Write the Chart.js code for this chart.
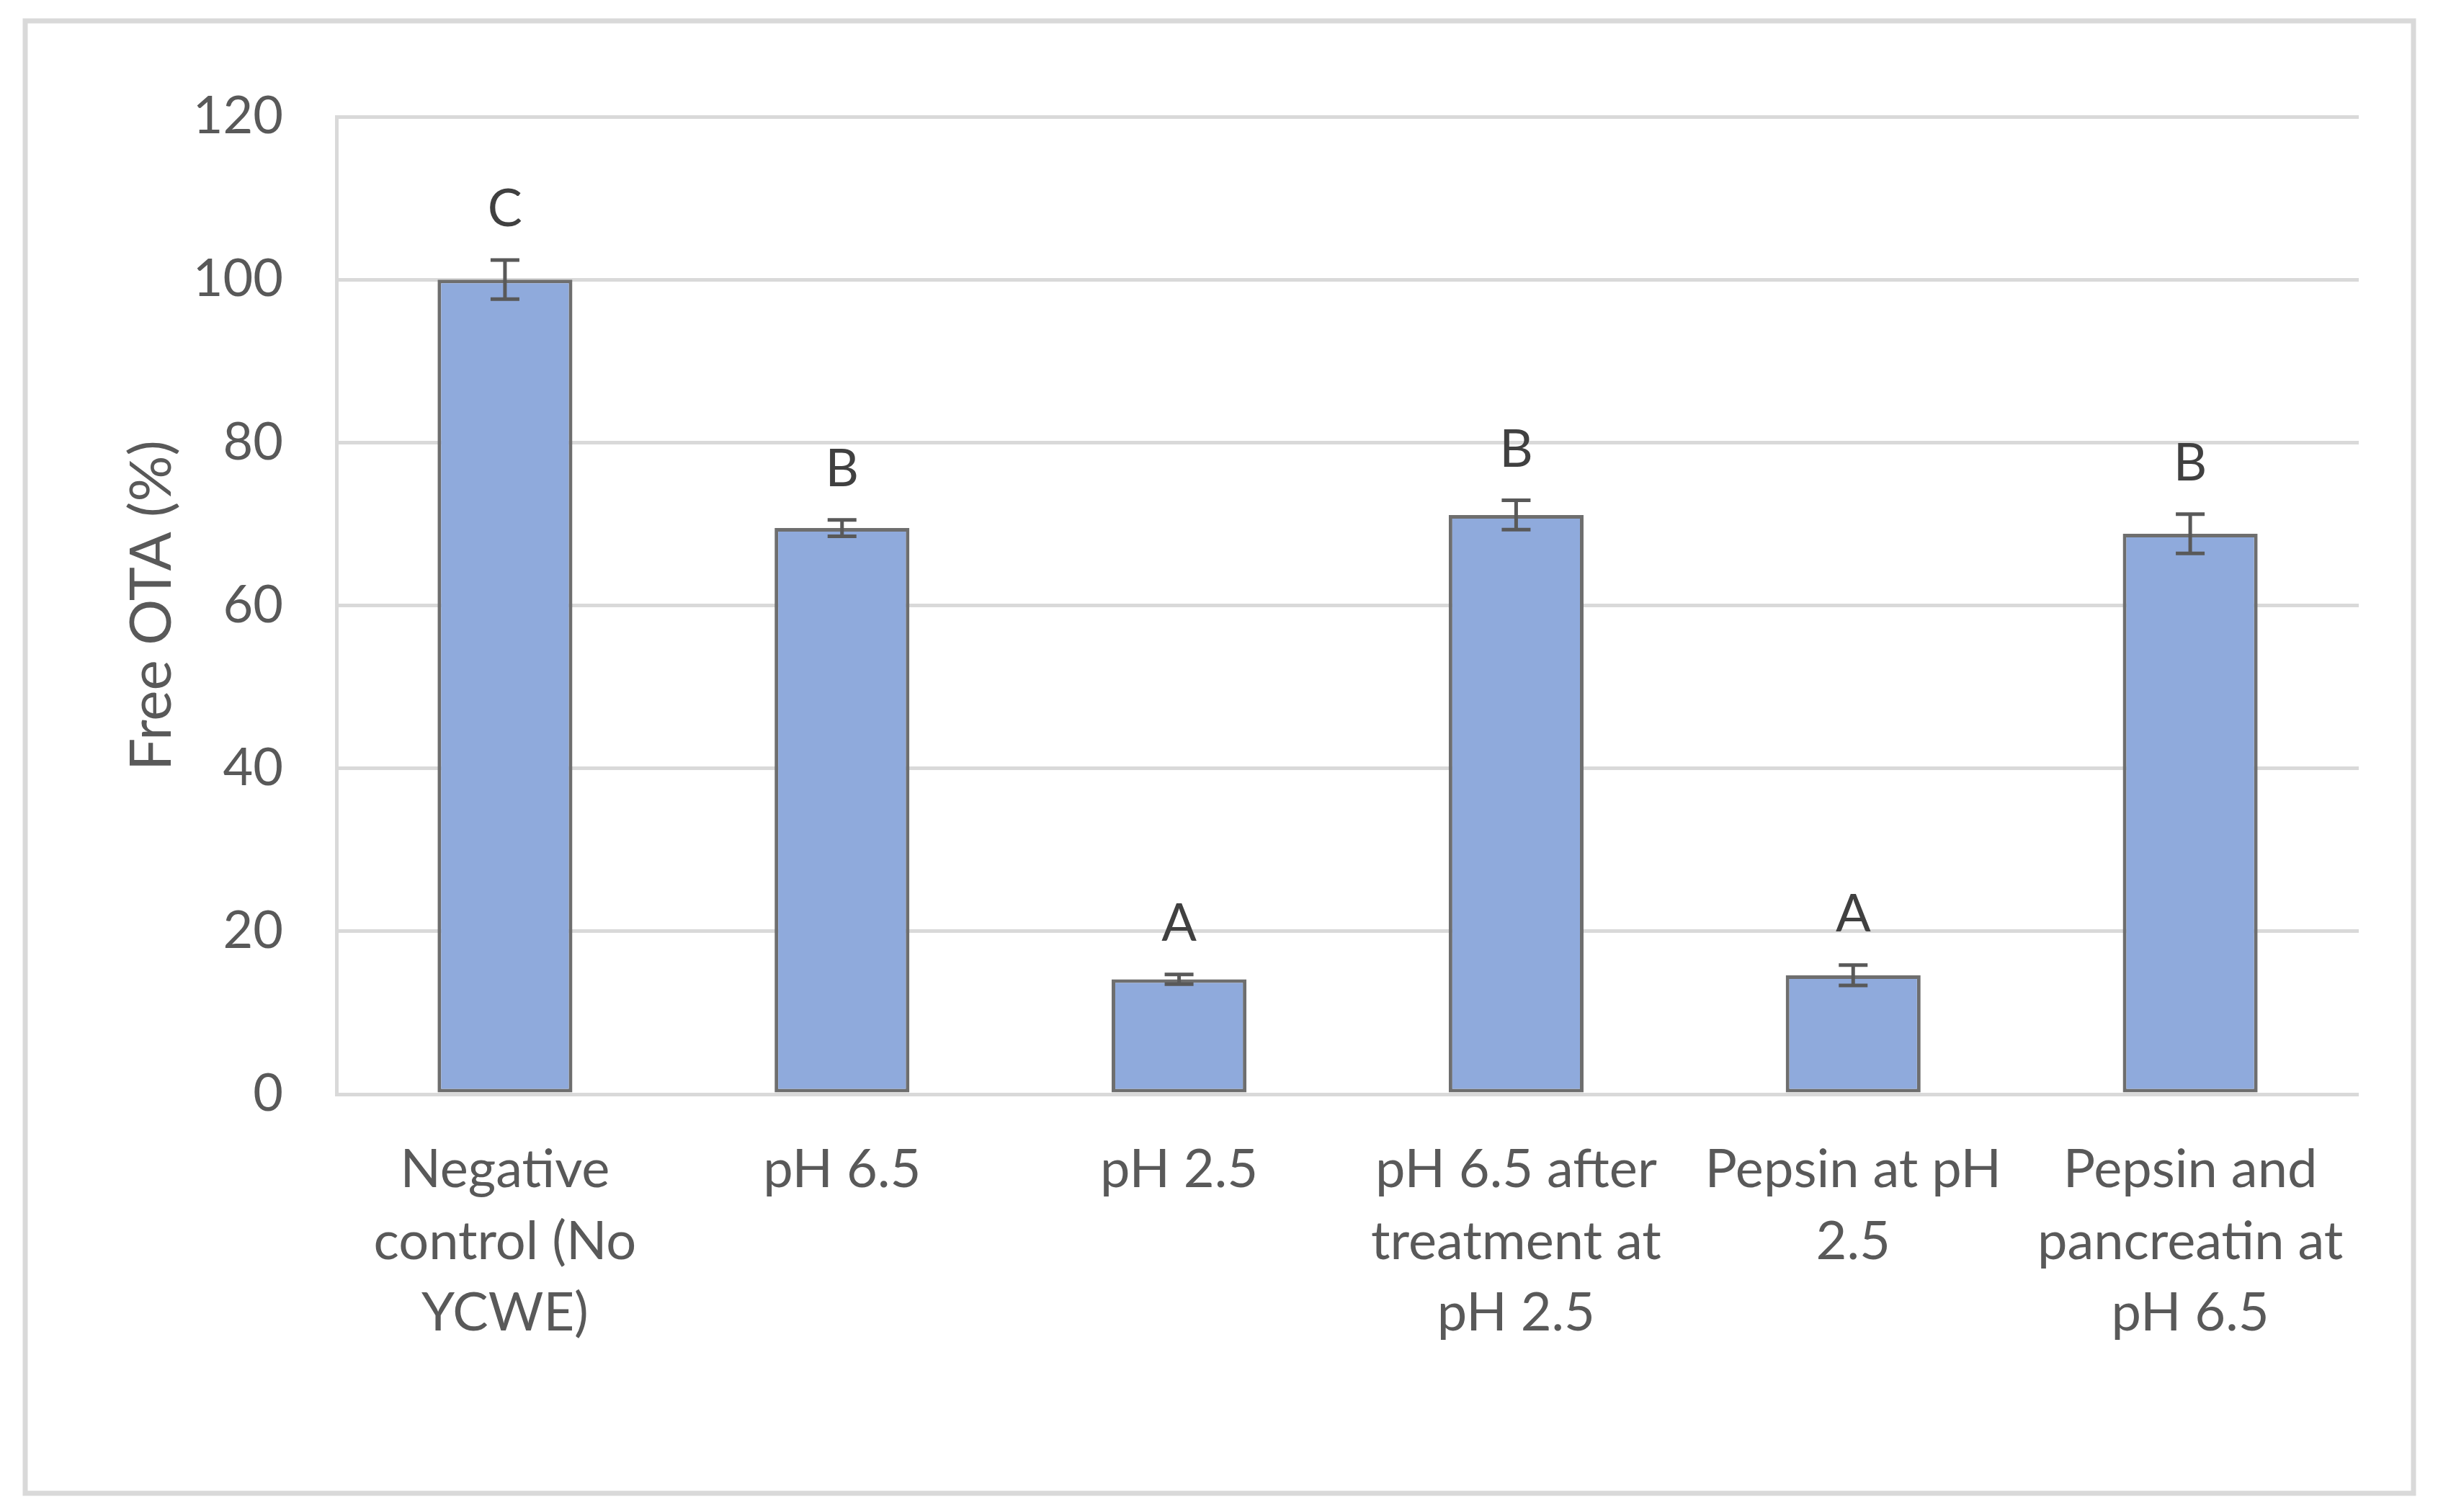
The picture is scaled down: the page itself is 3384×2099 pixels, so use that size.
<!DOCTYPE html>
<html>
<head>
<meta charset="utf-8">
<script src="https://cdn.jsdelivr.net/npm/chart.js@4.4.1/dist/chart.umd.min.js"></script>
<style>
    html, body { margin: 0; padding: 0; background: #ffffff; }
    #wrap { position: relative; width: 3384px; height: 2099px; }
</style>
</head>
<body>
<div id="wrap"><canvas id="otaChart"></canvas></div>
<script>
    var categories = [
        ['Negative', 'control (No', 'YCWE)'],
        'pH 6.5',
        'pH 2.5',
        ['pH 6.5 after', 'treatment at', 'pH 2.5'],
        ['Pepsin at pH', '2.5'],
        ['Pepsin and', 'pancreatin at', 'pH 6.5']
    ];
    var freeOta = [100, 69.5, 14.1, 71.1, 14.6, 68.8];
    var freeOtaErr = [2.4, 1.0, 0.6, 1.8, 1.25, 2.4];
    var groupLetters = ['C', 'B', 'A', 'B', 'A', 'B'];
    var yMin = 0, yMax = 120, yStep = 20;

    var textColor = '#595959';
    var fontName = 'Lato';

    // error bars + letters over the bars
    var errorBars = {
        id: 'errorBars',
        afterDatasetsDraw: function(chart) {
            var ctx = chart.ctx;
            var meta = chart.getDatasetMeta(0);
            var yScale = chart.scales.y;
            ctx.save();
            ctx.strokeStyle = '#595959';
            ctx.lineWidth = 5;
            for (var i = 0; i < meta.data.length; i++) {
                var x = meta.data[i].x;
                var hi = yScale.getPixelForValue(freeOta[i] + freeOtaErr[i]);
                var lo = yScale.getPixelForValue(freeOta[i] - freeOtaErr[i]);
                ctx.beginPath();
                ctx.moveTo(x, hi); ctx.lineTo(x, lo);
                ctx.moveTo(x - 20, hi); ctx.lineTo(x + 20, hi);
                ctx.moveTo(x - 20, lo); ctx.lineTo(x + 20, lo);
                ctx.stroke();

                ctx.fillStyle = '#404040';
                ctx.font = '72px ' + fontName;
                ctx.textAlign = 'center';
                ctx.textBaseline = 'middle';
                ctx.fillText(groupLetters[i], x, hi - 70);
            }
            ctx.restore();
        }
    };

    var frame = {
        id: 'frame',
        beforeDraw: function(chart) {
            var ctx = chart.ctx;
            ctx.save();
            ctx.fillStyle = '#ffffff';
            ctx.fillRect(0, 0, chart.width, chart.height);
            ctx.strokeStyle = '#d9d9d9';
            ctx.lineWidth = 7;
            ctx.strokeRect(35, 29, 3315, 2044);
            ctx.restore();
        }
    };

    const ctx = document.getElementById('otaChart');
    var ota_Chart = new Chart(ctx, {
        type: 'bar',
        data: {
            labels: categories,
            datasets: [{
                label: 'Free OTA (%)',
                data: freeOta,
                backgroundColor: '#8faadc',
                borderColor: '#6e6e6e',
                borderWidth: 5,
                borderSkipped: false,
                barPercentage: 0.4,
                categoryPercentage: 1
            }]
        },
        options: {
            responsive: true,
            maintainAspectRatio: false,
            animation: false,
            devicePixelRatio: 1,
            layout: {
                padding: { top: 162, right: 110, bottom: 0, left: 0 }
            },
            plugins: {
                legend: { display: false },
                tooltip: { enabled: false }
            },
            scales: {
                x: {
                    afterFit: function(scale) { scale.height = 580; },
                    grid: { display: false, drawTicks: false },
                    border: { display: false },
                    ticks: {
                        color: textColor,
                        autoSkip: false,
                        maxRotation: 0,
                        padding: 56,
                        font: { family: fontName, size: 74, lineHeight: 1.34 }
                    }
                },
                y: {
                    min: yMin,
                    max: yMax,
                    afterFit: function(scale) { scale.width = 467; },
                    grid: { color: '#d9d9d9', lineWidth: 5, drawTicks: false },
                    border: { display: true, color: '#d9d9d9', width: 5 },
                    ticks: {
                        stepSize: yStep,
                        color: textColor,
                        padding: 74,
                        font: { family: fontName, size: 72 }
                    },
                    title: {
                        display: true,
                        text: 'Free OTA (%)',
                        color: textColor,
                        padding: { top: 163, bottom: 0 },
                        font: { family: fontName, size: 80, lineHeight: 1.2 }
                    }
                }
            }
        },
        plugins: [frame, errorBars]
    });
</script>
</body>
</html>
